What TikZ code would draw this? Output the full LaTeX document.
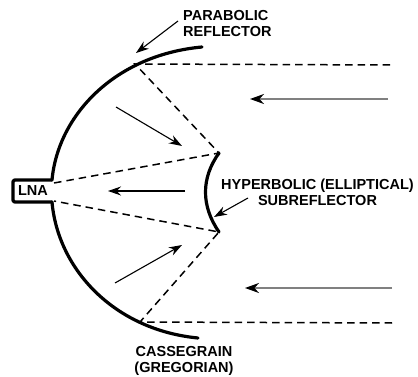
\documentclass[tikz,border=0pt]{standalone}
\usepackage{fontspec}
\setmainfont{Liberation Sans}
\usepackage{tikz}
\usetikzlibrary{arrows.meta}
\begin{document}
\begin{tikzpicture}[x=1pt,y=-1pt]
\tikzstyle{dish} = [line width=3.2pt, line cap=round, line join=round]
\tikzstyle{ray} = [line width=1.5pt, dash pattern=on 7.5pt off 5pt]
\tikzstyle{pointer} = [line width=1.1pt, -{Stealth[length=13pt,width=9pt]}]
\tikzstyle{wave} = [line width=2pt, color=black!50, -{Stealth[length=14pt,width=10pt,color=black]}]
\tikzstyle{lbl} = [inner sep=0pt, font=\bfseries\fontsize{14.5}{16}\selectfont, align=center]
\useasboundingbox (0,0) rectangle (418,377);

\coordinate (neckt) at (52,180);
\coordinate (neckb) at (52,202);
\coordinate (rimt) at (202,47);
\coordinate (rimb) at (198,338);
\coordinate (hitt) at (135,64);
\coordinate (hitb) at (140,322);
\coordinate (feed) at (54,183);
\coordinate (feedb) at (54,201);
\coordinate (subt) at (219,153);
\coordinate (subb) at (219,232);
\coordinate (farr) at (390,65);
\coordinate (farb) at (392,323);

% reflectors
\draw[dish] (neckt) .. controls (58,115) and (115,55) .. (rimt);
\draw[dish] (neckb) .. controls (58,270) and (115,330) .. (rimb);
\draw[dish,rounded corners=1.5pt] (neckt) -- (13,180) -- (13,202) -- (neckb);
\draw[dish] (subt) .. controls (201,178) and (201,206) .. (subb);

% rays
\draw[ray] (farr) -- (hitt) -- (subt) -- (feed);
\draw[ray] (farb) -- (hitb) -- (subb) -- (feedb);

% arrows
\coordinate (a1s) at (116,107); \coordinate (a1e) at (182,146);
\coordinate (a2s) at (185,191); \coordinate (a2e) at (108,191);
\coordinate (a3s) at (115,283); \coordinate (a3e) at (182,245);
\draw[pointer] (a1s) -- (a1e);
\draw[pointer] (a2s) -- (a2e);
\draw[pointer] (a3s) -- (a3e);
\coordinate (w1s) at (388,99); \coordinate (w1e) at (250,99);
\coordinate (w2s) at (392,288); \coordinate (w2e) at (245,288);
\draw[wave] (w1s) -- (w1e);
\draw[wave] (w2s) -- (w2e);

% labels
\draw(183,24) node[lbl,anchor=west,align=left] (parab) {PARABOLIC\\REFLECTOR};
\draw(317.5,192) node[lbl] (hyper) {HYPERBOLIC (ELLIPTICAL)\\SUBREFLECTOR};
\draw(184,361) node[lbl] (casse) {CASSEGRAIN\\(GREGORIAN)};
\draw(33,191) node[lbl] (lna) {LNA};

\coordinate (l1s) at (178,21); \coordinate (l1e) at (136,53);
\coordinate (l2s) at (248,198); \coordinate (l2e) at (214,217);
\draw[pointer] (l1s) -- (l1e);
\draw[pointer] (l2s) -- (l2e);
\end{tikzpicture}
\end{document}
